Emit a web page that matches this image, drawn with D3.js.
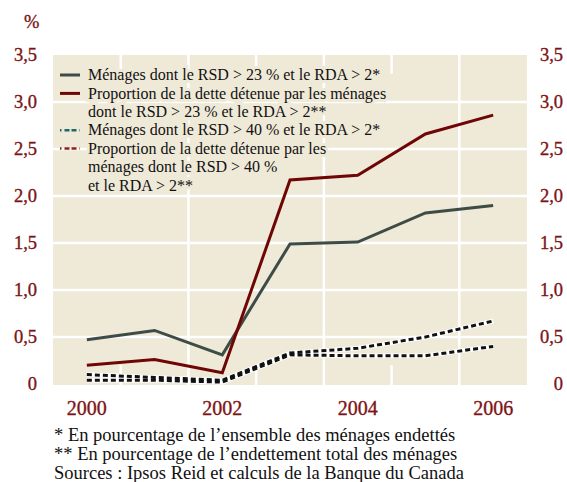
<!DOCTYPE html>
<html>
<head>
<meta charset="utf-8">
<script src="https://cdn.jsdelivr.net/npm/d3@7"></script>
<style>
  html, body { margin: 0; padding: 0; background: #fff; }
  #viz { width: 567px; height: 482px; }
  text { font-family: "Liberation Serif", "DejaVu Serif", serif; }
</style>
</head>
<body>
<div id="viz"></div>
<script>
// data
const years = [2000, 2001, 2002, 2003, 2004, 2005, 2006];
const menages23 = [0.47, 0.57, 0.31, 1.49, 1.51, 1.82, 1.90];
const dette23 = [0.20, 0.26, 0.12, 2.17, 2.22, 2.66, 2.86];
const menages40 = [0.04, 0.04, 0.02, 0.31, 0.30, 0.30, 0.40];
const dette40 = [0.10, 0.07, 0.04, 0.33, 0.38, 0.50, 0.67];

const yTicks = [0, 0.5, 1, 1.5, 2, 2.5, 3, 3.5];
const xTicks = [2000, 2002, 2004, 2006];
const fullGrid = [2001.5, 2003.5, 2005.5];
const stubGrid = [2000.5, 2002.5, 2004.5];

const legendItems = [
  { lines: ["Ménages dont le RSD > 23 % et le RDA > 2*"], color: "#3e4c48", dashed: false },
  { lines: ["Proportion de la dette détenue par les ménages", "dont le RSD > 23 % et le RDA > 2**"], color: "#6e0606", dashed: false },
  { lines: ["Ménages dont le RSD > 40 % et le RDA > 2*"], color: "#1c6a6a", dashed: true },
  { lines: ["Proportion de la dette détenue par les", "ménages dont le RSD > 40 %", "et le RDA > 2**"], color: "#8a2328", dashed: true },
];

const notes = [
  "* En pourcentage de l\u2019ensemble des ménages endettés",
  "** En pourcentage de l\u2019endettement total des ménages",
  "Sources : Ipsos Reid et calculs de la Banque du Canada",
];

const beige = "#efe9d8";
const labelColor = "#7c1416";

const width = 567, height = 482;
const svg = d3.select("#viz").append("svg")
  .attr("width", width).attr("height", height);

const x = d3.scaleLinear().domain([1999.5, 2006.5]).range([53, 527]);
const y = d3.scaleLinear().domain([0, 3.5]).range([384, 55]);

// plot background
svg.append("rect")
  .attr("x", x(1999.5)).attr("y", y(3.5))
  .attr("width", x(2006.5) - x(1999.5)).attr("height", y(0) - y(3.5) + 1)
  .attr("fill", beige);

// white grid
const grid = svg.append("g").attr("stroke", "#fff").attr("stroke-width", 2.5);
grid.selectAll("line.h").data(yTicks.slice(1, -1)).join("line")
  .attr("x1", x(1999.5)).attr("x2", x(2006.5))
  .attr("y1", d => y(d)).attr("y2", d => y(d));
grid.selectAll("line.v").data(fullGrid).join("line")
  .attr("x1", d => x(d)).attr("x2", d => x(d))
  .attr("y1", y(3.5)).attr("y2", y(0) + 1);
grid.selectAll("line.st").data(stubGrid).join("line")
  .attr("x1", d => x(d)).attr("x2", d => x(d))
  .attr("y1", y(0.2)).attr("y2", y(0) + 1);
grid.selectAll("line.sb").data(stubGrid).join("line")
  .attr("x1", d => x(d)).attr("x2", d => x(d))
  .attr("y1", y(3.5)).attr("y2", y(3.3));

// axes labels
const fmt = d => d === 0 ? "0" : d3.format(".1f")(d).replace(".", ",");
const yl = svg.append("g").attr("fill", labelColor).attr("font-size", 18.5)
  .attr("stroke", labelColor).attr("stroke-width", 0.35);
yl.selectAll("text.l").data(yTicks).join("text")
  .attr("x", 37).attr("y", d => y(d)).attr("dy", "0.35em")
  .attr("text-anchor", "end")
  .text(fmt);
yl.selectAll("text.r").data(yTicks).join("text")
  .attr("x", 563).attr("y", d => y(d)).attr("dy", "0.35em")
  .attr("text-anchor", "end")
  .text(fmt);
yl.append("text").attr("x", 24).attr("y", 28).text("%");

svg.append("g").attr("fill", labelColor).attr("font-size", 20)
  .attr("stroke", labelColor).attr("stroke-width", 0.35)
  .selectAll("text").data(xTicks).join("text")
  .attr("x", d => x(d)).attr("y", 408).attr("dy", "0.35em")
  .attr("text-anchor", "middle")
  .text(d => d);

// legend (text halo hides grid behind it)
const leg = svg.append("g").attr("font-size", 16);
let row = 0;
legendItems.forEach(item => {
  const ly = 75 + row * 18.4;
  if (item.dashed) {
    leg.append("line")
      .attr("x1", 60).attr("x2", 80).attr("y1", ly).attr("y2", ly)
      .attr("stroke", item.color).attr("stroke-width", 2.5)
      .attr("stroke-dasharray", "1.5,3,5,2,5,3");
  } else {
    leg.append("line")
      .attr("x1", 60).attr("x2", 80).attr("y1", ly).attr("y2", ly)
      .attr("stroke", item.color).attr("stroke-width", 3);
  }
  item.lines.forEach(t => {
    leg.append("text")
      .attr("x", 88).attr("y", 75 + row * 18.4).attr("dy", "0.33em")
      .attr("fill", "#111")
      .attr("stroke", beige).attr("stroke-width", 6)
      .attr("paint-order", "stroke")
      .text(t);
    row++;
  });
});

// series
const line = d3.line().x((d, i) => x(years[i])).y(d => y(d));

[dette40, menages40].forEach(s => {
  svg.append("path").datum(s).attr("d", line)
    .attr("fill", "none").attr("stroke", "#fff").attr("stroke-width", 4.5);
});
[dette40, menages40].forEach(s => {
  svg.append("path").datum(s).attr("d", line)
    .attr("fill", "none").attr("stroke", "#111").attr("stroke-width", 3)
    .attr("stroke-dasharray", "5,3");
});
svg.append("path").datum(menages23).attr("d", line)
  .attr("fill", "none").attr("stroke", "#3e4c48").attr("stroke-width", 3)
  .attr("stroke-linejoin", "miter");
svg.append("path").datum(dette23).attr("d", line)
  .attr("fill", "none").attr("stroke", "#6e0606").attr("stroke-width", 3)
  .attr("stroke-linejoin", "miter");

// footnotes
svg.append("g").attr("font-size", 18.5).attr("fill", "#111")
  .selectAll("text").data(notes).join("text")
  .attr("x", 54).attr("y", (d, i) => 441 + i * 19)
  .text(d => d);
</script>
</body>
</html>
